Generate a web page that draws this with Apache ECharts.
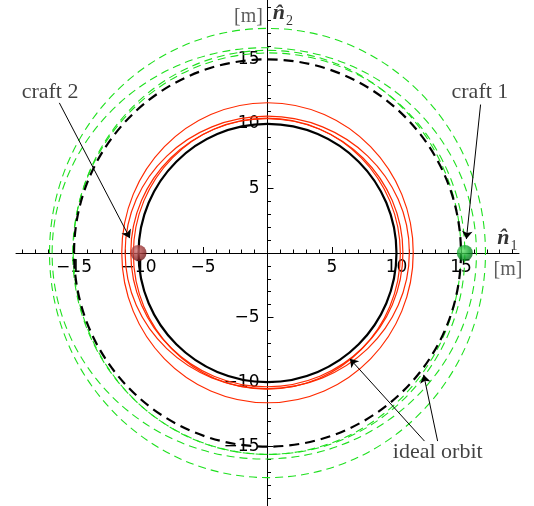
<!DOCTYPE html>
<html>
<head>
<meta charset="utf-8">
<script src="https://cdn.jsdelivr.net/npm/echarts@6/dist/echarts.min.js"></script>
<style>
  html, body { margin: 0; padding: 0; background: #fff; }
  #chart { width: 534px; height: 506px; }
</style>
</head>
<body>
<div id="chart"></div>
<script>
// Tick positions along both relative-position axes [m]
const majorTicks = [-15, -10, -5, 5, 10, 15];
const minorTicks = [-19, -18, -17, -16, -14, -13, -12, -11, -9, -8, -7, -6, -4, -3, -2, -1,
                    1, 2, 3, 4, 6, 7, 8, 9, 11, 12, 13, 14, 16, 17, 18, 19];

// Ideal formation orbits: radius [m]
const idealInner = [10];
const idealOuter = [15];

// Relative trajectory loops, each as [centre n1, centre n2, semi-axis n1, semi-axis n2] in m
const craft2Loops = [
  [0.00, 0.02, 11.30, 11.62],
  [-0.02, 0.05, 11.02, 10.55],
  [-0.05, 0.02, 10.55, 10.38],
  [-0.05, -0.05, 10.35, 10.50]
];
const craft1Loops = [
  [0.00, 0.00, 16.90, 17.40],
  [-0.25, -0.03, 16.45, 15.93],
  [-0.03, 0.05, 15.03, 15.65],
  [0.10, -0.05, 15.20, 15.55]
];

// Current positions of the two spacecraft [m]
const craft1Pos = [15.3, 0];
const craft2Pos = [-10.0, 0];

const signed = v => (v < 0 ? '\u2212' + Math.abs(v) : String(v));

const SERIF = 'Liberation Serif';

// Plot frame: the axes cross at the origin, placed in the middle of the frame
const GRID = { left: 16, top: 0, width: 503, height: 506 };
const X_RANGE = [-19.5, 19.5];
const Y_RANGE = [-19.6, 19.6];
const xZeroShift = -GRID.width * (0 - X_RANGE[0]) / (X_RANGE[1] - X_RANGE[0]);
const yZeroShift = -GRID.height * (0 - Y_RANGE[0]) / (Y_RANGE[1] - Y_RANGE[0]);

function ellipseSeries(name, data, stroke, width, dash, z) {
  return {
    name: name,
    type: 'custom',
    coordinateSystem: 'cartesian2d',
    xAxisIndex: 0,
    yAxisIndex: 0,
    silent: true,
    clip: false,
    z: z,
    encode: { x: 0, y: 1 },
    data: data,
    renderItem: function (params, api) {
      const c = api.coord([api.value(0), api.value(1)]);
      const s = api.size([api.value(2), api.value(3)]);
      return {
        type: 'ellipse',
        shape: { cx: c[0], cy: c[1], rx: s[0], ry: s[1] },
        style: { fill: 'none', stroke: stroke, lineWidth: width, lineDash: dash }
      };
    }
  };
}

function ball(pos, light, mid, dark) {
  return {
    type: 'scatter',
    silent: true,
    z: 8,
    symbol: 'circle',
    symbolSize: 16,
    data: [pos],
    itemStyle: {
      color: {
        type: 'radial', x: 0.38, y: 0.35, r: 0.75,
        colorStops: [
          { offset: 0, color: light },
          { offset: 0.55, color: mid },
          { offset: 1, color: dark }
        ]
      }
    }
  };
}

// Annotation texts anchored in plot coordinates
const notes = [
  { at: [-16.86, 12.48], text: 'craft 2', font: 22 },
  { at: [16.47, 12.48], text: 'craft 1', font: 22 },
  { at: [13.2, -15.45], text: 'ideal orbit', font: 22 },
  { at: [18.64, -1.28], text: '[m]', font: 20, color: '#333' },
  { at: [-1.47, 18.3], text: '[m]', font: 20, color: '#333' },
  { at: [18.6, 1.0], rich: '{n|n\u0302}{s|1}' },
  { at: [1.2, 18.4], rich: '{n|n\u0302}{s|2}' }
];

// Leader arrows: tail point and arrow-head centre
const arrows = [
  [[-16.14, 11.63], [-10.67, 1.15]],
  [[16.52, 11.50], [15.42, 1.08]],
  [[12.17, -14.57], [6.39, -8.20]],
  [[13.19, -14.57], [12.11, -9.44]]
];

const tickStyle = { color: '#000', width: 1 };
const labelFont = { fontFamily: 'DejaVu Sans', fontSize: 17, color: '#000' };

const baseX = {
  type: 'value', min: X_RANGE[0], max: X_RANGE[1], position: 'bottom', offset: yZeroShift,
  splitLine: { show: false }
};
const baseY = {
  type: 'value', min: Y_RANGE[0], max: Y_RANGE[1], position: 'left', offset: xZeroShift,
  splitLine: { show: false }
};

const option = {
  backgroundColor: '#fff',
  animation: false,
  grid: Object.assign({ containLabel: false, outerBoundsMode: 'none' }, GRID),
  xAxis: [
    Object.assign({}, baseX, {
      axisLine: { onZero: false, lineStyle: { color: '#000', width: 1 } },
      axisTick: { show: true, inside: true, length: 6, customValues: majorTicks, lineStyle: tickStyle },
      axisLabel: Object.assign({ customValues: majorTicks, formatter: signed, margin: 6 }, labelFont)
    }),
    Object.assign({}, baseX, {
      axisLine: { show: false, onZero: false },
      axisTick: { show: true, inside: true, length: 3.5, customValues: minorTicks, lineStyle: tickStyle },
      axisLabel: { show: false }
    })
  ],
  yAxis: [
    Object.assign({}, baseY, {
      axisLine: { onZero: false, lineStyle: { color: '#000', width: 1 } },
      axisTick: { show: true, inside: true, length: 6, customValues: majorTicks, lineStyle: tickStyle },
      axisLabel: Object.assign({ customValues: majorTicks, formatter: signed, margin: 8 }, labelFont)
    }),
    Object.assign({}, baseY, {
      axisLine: { show: false, onZero: false },
      axisTick: { show: true, inside: true, length: 3.5, customValues: minorTicks, lineStyle: tickStyle },
      axisLabel: { show: false }
    })
  ],
  series: [
    ellipseSeries('craft 1', craft1Loops, '#1ee01e', 1.1, [8, 5], 3),
    ellipseSeries('craft 2', craft2Loops, '#ff2a00', 1.2, null, 3),
    ellipseSeries('ideal inner', idealInner.map(r => [0, 0, r, r]), '#000', 2.2, null, 4),
    ellipseSeries('ideal outer', idealOuter.map(r => [0, 0, r, r]), '#000', 2.2, [10, 6], 4),
    ball(craft1Pos, '#5fe06a', '#0fa02a', '#046018'),
    ball(craft2Pos, '#d07070', '#9c3434', '#621414'),
    {
      type: 'lines',
      coordinateSystem: 'cartesian2d',
      silent: true,
      z: 9,
      symbol: ['none', 'arrow'],
      symbolSize: 8,
      lineStyle: { color: '#000', width: 1, opacity: 1, curveness: 0 },
      data: arrows.map(a => ({ coords: a }))
    },
    {
      type: 'scatter',
      silent: true,
      z: 10,
      symbolSize: 0,
      data: notes.map(n => ({
        value: n.at,
        label: n.rich ? {
          show: true, position: 'inside', formatter: n.rich,
          rich: {
            n: { fontFamily: SERIF, fontWeight: 'bold', fontStyle: 'italic', fontSize: 22,
                 color: '#000', verticalAlign: 'bottom', padding: [0, 1, 4, 0] },
            s: { fontFamily: SERIF, fontSize: 14, color: '#000', verticalAlign: 'bottom' }
          }
        } : {
          show: true, position: 'inside', formatter: n.text,
          fontFamily: SERIF, fontSize: n.font, color: n.color || '#111'
        }
      }))
    }
  ]
};

const chart = echarts.init(document.getElementById('chart'), null, { renderer: 'canvas' });
chart.setOption(option);
</script>
</body>
</html>
